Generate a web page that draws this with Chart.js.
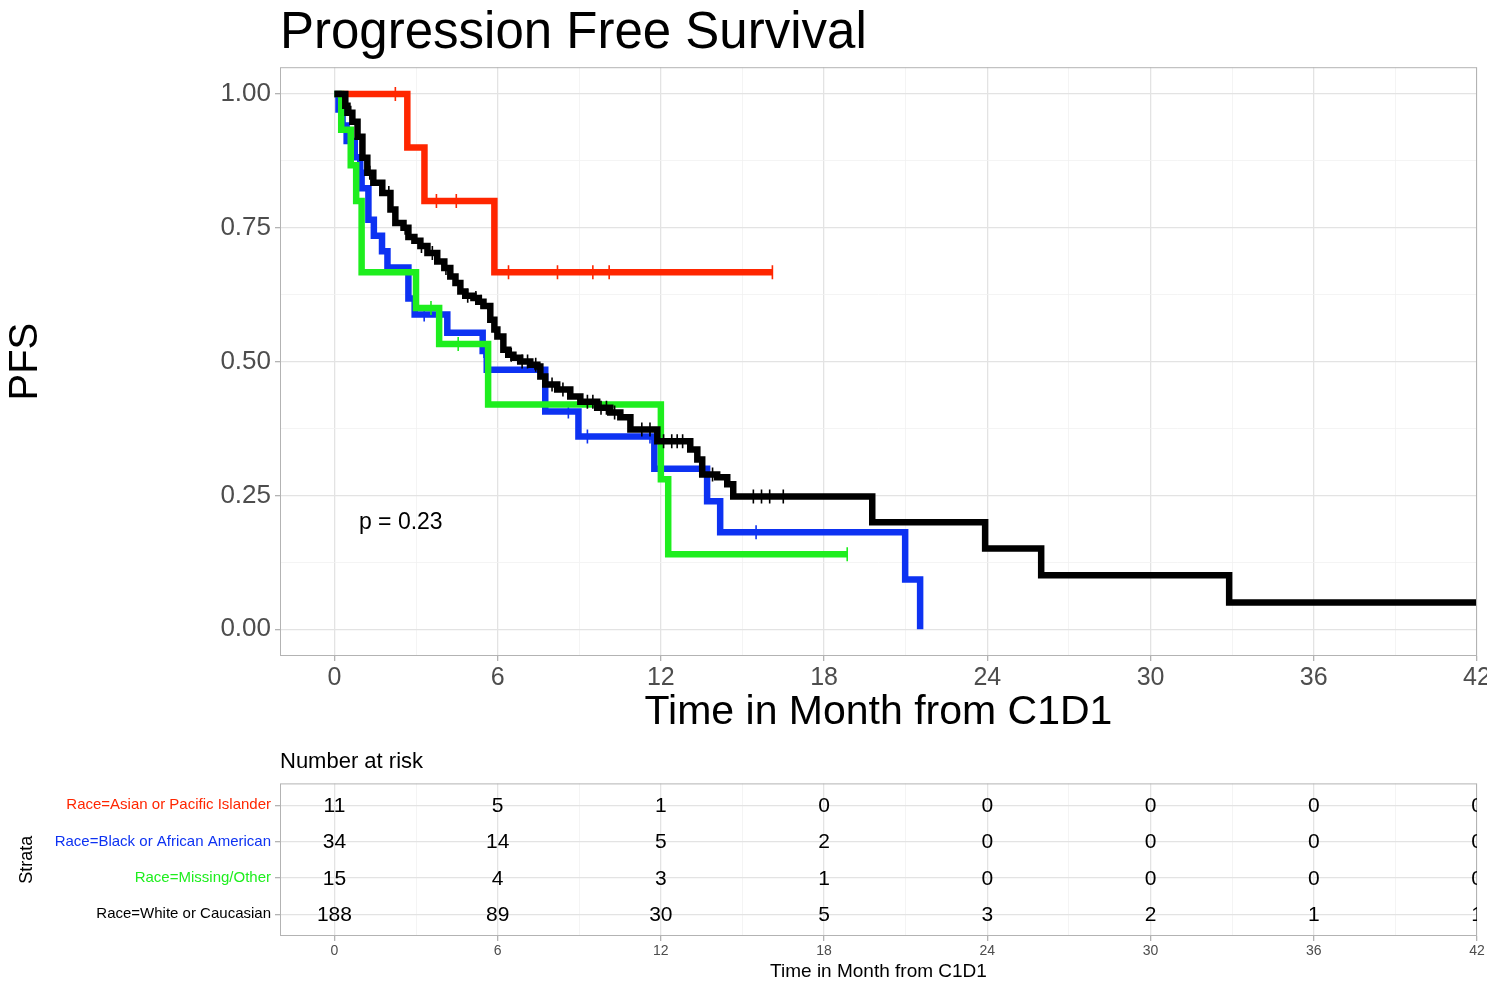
<!DOCTYPE html>
<html>
<head>
<meta charset="utf-8">
<script src="https://cdn.jsdelivr.net/npm/chart.js@4.4.1/dist/chart.umd.min.js"></script>
<style>
  html, body { margin: 0; padding: 0; background: #fff; }
  #wrap { position: relative; width: 1487px; height: 991px; overflow: hidden; }
  canvas { position: absolute; left: 0; }
  #kmChart { top: 0; }
  #riskChart { top: 740px; }
</style>
</head>
<body>
<div id="wrap">
  <canvas id="kmChart" width="1487" height="740"></canvas>
  <canvas id="riskChart" width="1487" height="251"></canvas>
</div>
<script>
// strata, top row of the risk table first
const strata = ['Race=Asian or Pacific Islander', 'Race=Black or African American', 'Race=Missing/Other', 'Race=White or Caucasian']
const colors = ['#ff2600', '#0d32f2', '#1eee1e', '#000000']

// Kaplan-Meier steps: survival holds from each time until the next
const asianTime = [0, 2.68, 3.31, 5.88, 16.1]
const asianSurv = [1, 0.9, 0.8, 0.667, 0.667]
const asianCens = [2.24, 3.75, 4.48, 6.4, 8.2, 9.5, 10.1, 16.1]

const blackTime = [0, 0.15, 0.3, 0.45, 0.75, 0.95, 1.0, 1.25, 1.45, 1.75, 1.95, 2.72, 2.95, 4.15, 5.45, 5.6, 7.75, 8.97, 11.76, 13.7, 14.18, 20.98, 21.53]
const blackSurv = [1, 0.971, 0.941, 0.912, 0.882, 0.853, 0.824, 0.765, 0.735, 0.706, 0.676, 0.618, 0.588, 0.554, 0.52, 0.485, 0.407, 0.36, 0.30, 0.239, 0.181, 0.093, 0]
const blackCens = [3.3, 5.5, 8.6, 9.3, 11.6, 15.5]

const missingTime = [0, 0.25, 0.6, 0.8, 1.0, 3.0, 3.85, 5.65, 12.0, 12.27, 18.85]
const missingSurv = [1, 0.933, 0.867, 0.8, 0.667, 0.6, 0.533, 0.42, 0.28, 0.14, 0.14]
const missingCens = [3.55, 4.55, 18.85]

const whiteTime = [0, 0.11, 0.40, 0.48, 0.66, 0.85, 1.03, 1.21, 1.43, 1.76, 2.06, 2.24, 2.54, 2.72, 2.94, 3.16, 3.42, 3.78, 4.04, 4.26, 4.45, 4.63, 4.81, 5.11, 5.29, 5.48, 5.73, 5.88, 5.99, 6.21, 6.39, 6.58, 6.83, 7.20, 7.46, 7.57, 7.75, 8.19, 8.67, 9.04, 9.66, 10.14, 10.51, 10.88, 11.87, 13.08, 13.34, 13.52, 14.07, 14.44, 14.66, 19.77, 23.92, 25.98, 32.89, 42]
const whiteSurv = [1, 1, 0.978, 0.965, 0.948, 0.920, 0.881, 0.853, 0.834, 0.815, 0.784, 0.759, 0.750, 0.733, 0.726, 0.716, 0.703, 0.687, 0.675, 0.659, 0.647, 0.631, 0.623, 0.619, 0.612, 0.604, 0.578, 0.560, 0.547, 0.522, 0.513, 0.507, 0.500, 0.494, 0.491, 0.472, 0.457, 0.448, 0.435, 0.425, 0.414, 0.405, 0.396, 0.373, 0.351, 0.336, 0.317, 0.289, 0.284, 0.271, 0.248, 0.200, 0.151, 0.101, 0.050, 0.050]
const whiteCens = [0.6, 1.3, 2.0, 2.6, 3.2, 3.6, 4.1, 4.9, 5.2, 5.4, 6.5, 6.9, 7.1, 7.4, 8.0, 8.4, 9.3, 9.5, 9.8, 10.0, 10.3, 11.3, 11.6, 12.1, 12.4, 12.6, 12.8, 13.9, 15.4, 15.7, 16.0, 16.5]

// number at risk
const riskTimes = [0, 6, 12, 18, 24, 30, 36, 42]
const asianRisk = [11, 5, 1, 0, 0, 0, 0, 0]
const blackRisk = [34, 14, 5, 2, 0, 0, 0, 0]
const missingRisk = [15, 4, 3, 1, 0, 0, 0, 0]
const whiteRisk = [188, 89, 30, 5, 3, 2, 1, 1]

const xMajor = [0, 6, 12, 18, 24, 30, 36, 42]
const yMajor = [0, 0.25, 0.5, 0.75, 1]
const pText = 'p = 0.23'

const FONT = '"Liberation Sans", Arial, Helvetica, sans-serif'
Chart.defaults.font.family = FONT

const majorGrid = '#e3e3e3'
const minorGrid = '#f1f1f1'
const tickGray = '#b3b3b3'

function withMinor(major) {
    let out = []
    for (let i = 0; i < major.length; i++) {
        out.push(major[i])
        if (i < major.length - 1) out.push((major[i] + major[i + 1]) / 2)
    }
    return out
}
function isMajor(list, v) {
    return list.some(m => Math.abs(m - v) < 1e-9)
}
function steps(time, surv) {
    return time.map((t, i) => ({x: t, y: surv[i]}))
}
function survAt(time, surv, t) {
    let s = surv[0]
    for (let i = 0; i < time.length; i++) {
        if (time[i] <= t) s = surv[i]
    }
    return s
}

const groups = [
    {time: asianTime, surv: asianSurv, cens: asianCens, order: 4},
    {time: blackTime, surv: blackSurv, cens: blackCens, order: 3},
    {time: missingTime, surv: missingSurv, cens: missingCens, order: 2},
    {time: whiteTime, surv: whiteSurv, cens: whiteCens, order: 1}
]

let kmDatasets = []
groups.forEach((g, i) => {
    kmDatasets.push({
        label: strata[i],
        data: steps(g.time, g.surv),
        showLine: true,
        stepped: 'before',
        borderColor: colors[i],
        borderWidth: 6.5,
        pointRadius: 0,
        fill: false,
        order: g.order
    })
    kmDatasets.push({
        label: strata[i] + ' censored',
        data: g.cens.map(t => ({x: t, y: survAt(g.time, g.surv, t)})),
        showLine: false,
        pointStyle: 'line',
        pointRotation: 90,
        pointRadius: 7,
        pointBorderWidth: 1.6,
        pointBorderColor: colors[i],
        pointBackgroundColor: colors[i],
        order: g.order
    })
})

const panelBorder = {
    id: 'panelBorder',
    afterDatasetsDraw(chart) {
        const {ctx, chartArea: a} = chart
        ctx.save()
        ctx.strokeStyle = tickGray
        ctx.lineWidth = 1
        ctx.strokeRect(a.left + 0.5, a.top + 0.5, a.right - a.left - 1, a.bottom - a.top - 1)
        ctx.restore()
    }
}

const pValue = {
    id: 'pValue',
    afterDatasetsDraw(chart) {
        const {ctx, scales} = chart
        ctx.save()
        ctx.font = '23px ' + FONT
        ctx.fillStyle = '#000'
        ctx.textBaseline = 'middle'
        ctx.textAlign = 'left'
        ctx.fillText(pText, scales.x.getPixelForValue(0.9), scales.y.getPixelForValue(0.2))
        ctx.restore()
    }
}

function gridOpts(major) {
    return {
        color: c => isMajor(major, c.tick.value) ? majorGrid : minorGrid,
        lineWidth: c => isMajor(major, c.tick.value) ? 1.3 : 0.8,
        tickColor: c => isMajor(major, c.tick.value) ? tickGray : 'rgba(0,0,0,0)',
        tickLength: 5,
        drawTicks: true
    }
}

new Chart(document.getElementById('kmChart'), {
    type: 'scatter',
    data: {datasets: kmDatasets},
    options: {
        responsive: false,
        animation: false,
        devicePixelRatio: 1,
        layout: {padding: {left: 0, right: 10, top: 0, bottom: 0}},
        plugins: {
            legend: {display: false},
            tooltip: {enabled: false},
            title: {
                display: true,
                text: 'Progression Free Survival',
                align: 'start',
                fullSize: false,
                color: '#000',
                font: {size: 51, weight: 'normal'},
                padding: {top: 3, bottom: 3}
            }
        },
        scales: {
            x: {
                type: 'linear',
                min: -2,
                max: 42,
                afterBuildTicks: s => { s.ticks = withMinor(xMajor).map(v => ({value: v})) },
                afterFit: s => { s.height = 84; s.paddingLeft = 0; s.paddingRight = 0 },
                grid: gridOpts(xMajor),
                border: {display: false},
                ticks: {
                    autoSkip: false,
                    maxRotation: 0,
                    padding: 2,
                    color: '#4d4d4d',
                    font: {size: 25},
                    callback: v => isMajor(xMajor, v) ? String(v) : ''
                },
                title: {
                    display: true,
                    text: 'Time in Month from C1D1',
                    color: '#000',
                    font: {size: 41},
                    padding: {top: 0, bottom: 3}
                }
            },
            y: {
                type: 'linear',
                min: -0.05,
                max: 1.05,
                afterBuildTicks: s => { s.ticks = withMinor(yMajor).map(v => ({value: v})) },
                afterFit: s => { s.width = 280; s.paddingTop = 0; s.paddingBottom = 0 },
                grid: gridOpts(yMajor),
                border: {display: false},
                ticks: {
                    autoSkip: false,
                    padding: 4,
                    color: '#4d4d4d',
                    font: {size: 26},
                    callback: v => isMajor(yMajor, v) ? v.toFixed(2) : ''
                },
                title: {
                    display: true,
                    text: 'PFS',
                    color: '#000',
                    font: {size: 40},
                    padding: {top: 2, bottom: 0}
                }
            }
        }
    },
    plugins: [panelBorder, pValue]
})

// risk table: one row per stratum, row 4 at the top
const riskRows = [asianRisk, blackRisk, missingRisk, whiteRisk]
const riskDatasets = riskRows.map((counts, i) => ({
    label: strata[i],
    counts: counts,
    data: riskTimes.map(t => ({x: t, y: 4 - i})),
    pointRadius: 0
}))

const riskText = {
    id: 'riskText',
    afterDatasetsDraw(chart) {
        const {ctx, chartArea: a} = chart
        ctx.save()
        ctx.beginPath()
        ctx.rect(a.left, a.top, a.right - a.left, a.bottom - a.top)
        ctx.clip()
        ctx.font = '21px ' + FONT
        ctx.fillStyle = '#000'
        ctx.textAlign = 'center'
        ctx.textBaseline = 'middle'
        chart.data.datasets.forEach((ds, di) => {
            chart.getDatasetMeta(di).data.forEach((el, j) => {
                ctx.fillText(String(ds.counts[j]), el.x, el.y + 1)
            })
        })
        ctx.restore()
    }
}

new Chart(document.getElementById('riskChart'), {
    type: 'scatter',
    data: {datasets: riskDatasets},
    options: {
        responsive: false,
        animation: false,
        devicePixelRatio: 1,
        layout: {padding: {left: 0, right: 10, top: 0, bottom: 0}},
        plugins: {
            legend: {display: false},
            tooltip: {enabled: false},
            title: {
                display: true,
                text: 'Number at risk',
                align: 'start',
                fullSize: false,
                color: '#000',
                font: {size: 22, weight: 'normal'},
                padding: {top: 9, bottom: 8}
            }
        },
        scales: {
            x: {
                type: 'linear',
                min: -2,
                max: 42,
                afterBuildTicks: s => { s.ticks = withMinor(xMajor).map(v => ({value: v})) },
                afterFit: s => { s.height = 55; s.paddingLeft = 0; s.paddingRight = 0 },
                grid: gridOpts(xMajor),
                border: {display: false},
                ticks: {
                    autoSkip: false,
                    maxRotation: 0,
                    padding: 2,
                    color: '#4d4d4d',
                    font: {size: 14},
                    callback: v => isMajor(xMajor, v) ? String(v) : ''
                },
                title: {
                    display: true,
                    text: 'Time in Month from C1D1',
                    color: '#000',
                    font: {size: 19},
                    padding: {top: 0, bottom: 8}
                }
            },
            y: {
                type: 'linear',
                min: 0.4,
                max: 4.6,
                afterBuildTicks: s => { s.ticks = [1, 2, 3, 4].map(v => ({value: v})) },
                afterFit: s => { s.width = 280; s.paddingTop = 0; s.paddingBottom = 0 },
                grid: {
                    color: majorGrid,
                    lineWidth: 1.3,
                    tickColor: tickGray,
                    tickLength: 5
                },
                border: {display: false},
                ticks: {
                    autoSkip: false,
                    padding: 4,
                    color: c => colors[4 - c.tick.value],
                    font: {size: 15},
                    callback: v => strata[4 - v]
                },
                title: {
                    display: true,
                    text: 'Strata',
                    color: '#000',
                    font: {size: 18},
                    padding: {top: 16, bottom: 0}
                }
            }
        }
    },
    plugins: [panelBorder, riskText]
})
</script>
</body>
</html>
